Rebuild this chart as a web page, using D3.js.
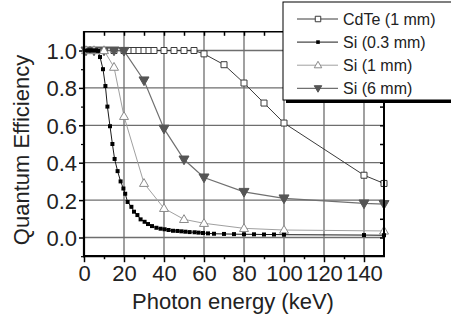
<!DOCTYPE html>
<html><head><meta charset="utf-8">
<script src="https://cdn.jsdelivr.net/npm/d3@7"></script>
<style>body{margin:0;background:#fff}svg{display:block}</style>
</head><body>
<svg id="c" width="451" height="320"></svg>
<script>
// ---- data ----
const seriesNames = ["CdTe (1 mm)", "Si (0.3 mm)", "Si (1 mm)", "Si (6 mm)"];
const cdteE  = [5,10,15,20,22.5,25,27.5,30,32.5,35,40,45,50,55,60,70,80,90,100,140,150];
const cdteQE = [1,1,1,1,1,1,1,1,1,1,1,1,1,1,0.982,0.924,0.826,0.719,0.612,0.333,0.289];
const si03E  = [1,2,3,4,5,6,7,8,9.5,10.7,11.7,13,14.2,15.3,16.8,18.3,19.7,20.6,21.8,23.7,25,26.7,28.3,30.3,32,34,36.2,38.3,40.3,42.3,44.5,46.7,48.7,50.7,52.8,55.3,57.3,59.5,62,65,70,75,80,85,90,95,100,140,150];
const si03QE = [1,1,1,1,1,1,0.998,0.965,0.90,0.81,0.70,0.595,0.50,0.42,0.355,0.30,0.262,0.234,0.19,0.164,0.138,0.12,0.097,0.084,0.072,0.061,0.052,0.047,0.044,0.04,0.036,0.035,0.033,0.031,0.029,0.028,0.026,0.024,0.022,0.02,0.019,0.018,0.017,0.017,0.016,0.016,0.015,0.013,0.012];
const si1E   = [1,5,10,15,20,30,40,50,60,80,100,150];
const si1QE  = [1,1,1,0.911,0.648,0.29,0.156,0.097,0.076,0.049,0.04,0.035];
const si6E   = [1,5,10,15,20,30,40,50,60,80,100,140,150];
const si6QE  = [1,1,1,1,0.998,0.84,0.582,0.417,0.321,0.244,0.209,0.182,0.179];
const xTicks = [0,20,40,60,80,100,120,140];
const yTicks = [0.0,0.2,0.4,0.6,0.8,1.0];
const xLabel = "Photon energy (keV)";
const yLabel = "Quantum Efficiency";

// ---- layout ----
const svg = d3.select("#c");
const font = "Liberation Sans, Arial, sans-serif";
const x = d3.scaleLinear().domain([0,150]).range([84,384]);
const y = d3.scaleLinear().domain([-0.1,1.1]).range([256.2,31.8]);
const X0 = x.range()[0], X1 = x.range()[1], Y0 = y.range()[0], Y1 = y.range()[1];

// gridlines
const grid = svg.append("g").attr("stroke","#6e6e6e").attr("stroke-width",1.3);
xTicks.filter(d=>d>0).forEach(d=>grid.append("line").attr("x1",x(d)).attr("x2",x(d)).attr("y1",Y1).attr("y2",Y0));
yTicks.forEach(d=>grid.append("line").attr("x1",X0).attr("x2",X1).attr("y1",y(d)).attr("y2",y(d)));

// axes using d3 axis generators
const axBottom = svg.append("g").attr("transform",`translate(0,${Y0})`)
  .call(d3.axisBottom(x).tickValues(xTicks).tickSize(6).tickSizeOuter(0).tickFormat(d3.format("d")));
axBottom.select(".domain").remove();
axBottom.selectAll("line").attr("stroke","#000").attr("stroke-width",1.5);
axBottom.selectAll("text").attr("font-family",font).attr("font-size",22).attr("fill","#222").attr("dy",null).attr("y",25);
const axBottomMinor = svg.append("g").attr("transform",`translate(0,${Y0})`)
  .call(d3.axisBottom(x).tickValues(d3.range(10,150,20)).tickSize(3).tickSizeOuter(0).tickFormat(""));
axBottomMinor.select(".domain").remove();
axBottomMinor.selectAll("line").attr("stroke","#000").attr("stroke-width",1.5);

const axLeft = svg.append("g").attr("transform",`translate(${X0},0)`)
  .call(d3.axisLeft(y).tickValues(yTicks).tickSize(5).tickSizeOuter(0).tickFormat(d3.format(".1f")));
axLeft.select(".domain").remove();
axLeft.selectAll("line").attr("stroke","#000").attr("stroke-width",1.5);
axLeft.selectAll("text").attr("font-family",font).attr("font-size",22).attr("fill","#222").attr("x",-7).attr("dy","0.36em");
const axLeftMinor = svg.append("g").attr("transform",`translate(${X0},0)`)
  .call(d3.axisLeft(y).tickValues([-0.1,0.1,0.3,0.5,0.7,0.9]).tickSize(3).tickSizeOuter(0).tickFormat(""));
axLeftMinor.select(".domain").remove();
axLeftMinor.selectAll("line").attr("stroke","#000").attr("stroke-width",1.2);

const axTop = svg.append("g").attr("transform",`translate(0,${Y1})`)
  .call(d3.axisTop(x).tickValues(d3.range(10,150,10)).tickSize(-4).tickSizeOuter(0).tickFormat(""));
axTop.select(".domain").remove();
axTop.selectAll("line").attr("stroke","#000").attr("stroke-width",1.5);
const axRight = svg.append("g").attr("transform",`translate(${X1},0)`)
  .call(d3.axisRight(y).tickValues(d3.range(0,1.05,0.1)).tickSize(-4).tickSizeOuter(0).tickFormat(""));
axRight.select(".domain").remove();
axRight.selectAll("line").attr("stroke","#000").attr("stroke-width",1.5);

// series
const series = [
  {name:seriesNames[0], E:cdteE, Q:cdteQE, line:"#3a3a3a", lw:1, marker:"square", size:6, fill:"#fff", stroke:"#3a3a3a"},
  {name:seriesNames[1], E:si03E, Q:si03QE, line:"#000", lw:0.9, marker:"square", size:4, fill:"#000", stroke:"none"},
  {name:seriesNames[2], E:si1E,  Q:si1QE,  line:"#a0a0a0", lw:1, marker:"tri", size:9, fill:"#fff", stroke:"#8a8a8a"},
  {name:seriesNames[3], E:si6E,  Q:si6QE,  line:"#707070", lw:1.2, marker:"dtri", size:10, fill:"#555", stroke:"#555"}
];
function markerPath(type, s){
  if(type==="square") return `M${-s/2},${-s/2}h${s}v${s}h${-s}Z`;
  const h = s*0.87;
  if(type==="tri") return `M0,${-h*0.6}L${s/2},${h*0.4}L${-s/2},${h*0.4}Z`;
  return `M0,${h*0.6}L${s/2},${-h*0.4}L${-s/2},${-h*0.4}Z`;
}
const lineGen = d3.line().x(d=>x(d[0])).y(d=>y(d[1]));
const drawOrder = [0,3,2,1];
drawOrder.forEach(i=>{
  const s = series[i];
  const pts = s.E.map((e,j)=>[e,s.Q[j]]);
  svg.append("path").datum(pts).attr("d",lineGen).attr("fill","none")
    .attr("stroke",s.line).attr("stroke-width",s.lw);
});
drawOrder.forEach(i=>{
  const s = series[i];
  const pts = s.E.map((e,j)=>[e,s.Q[j]]);
  svg.append("g").selectAll("path").data(pts).join("path")
    .attr("transform",d=>`translate(${x(d[0])},${y(d[1])})`)
    .attr("d",markerPath(s.marker,s.size))
    .attr("fill",s.fill).attr("stroke",s.stroke).attr("stroke-width",1);
});

// frame
svg.append("line").attr("x1",X0).attr("x2",X1).attr("y1",Y1).attr("y2",Y1).attr("stroke","#000").attr("stroke-width",1.5);
svg.append("line").attr("x1",X1).attr("x2",X1).attr("y1",Y1).attr("y2",Y0).attr("stroke","#000").attr("stroke-width",2);
svg.append("line").attr("x1",X0).attr("x2",X0).attr("y1",Y1-0.75).attr("y2",Y0+1).attr("stroke","#000").attr("stroke-width",2.2);
svg.append("line").attr("x1",X0-1).attr("x2",X1+1).attr("y1",Y0).attr("y2",Y0).attr("stroke","#000").attr("stroke-width",2.2);

// axis titles
svg.append("text").attr("x",233).attr("y",309).attr("text-anchor","middle")
  .attr("font-family",font).attr("font-size",22).attr("fill","#222").text(xLabel);
svg.append("text").attr("transform","translate(29,150) rotate(-90)").attr("text-anchor","middle")
  .attr("font-family",font).attr("font-size",22).attr("fill","#222").text(yLabel);

// legend
const lg = svg.append("g");
lg.append("rect").attr("x",286).attr("y",5).attr("width",170).attr("height",98).attr("fill","#000");
lg.append("rect").attr("x",283).attr("y",2).attr("width",170).attr("height",98).attr("fill","#fff").attr("stroke","#000").attr("stroke-width",1);
series.forEach((s,i)=>{
  const yy = 19 + i*23.1;
  lg.append("line").attr("x1",297).attr("x2",338).attr("y1",yy).attr("y2",yy).attr("stroke",s.line).attr("stroke-width",s.lw);
  lg.append("path").attr("transform",`translate(318,${yy})`).attr("d",markerPath(s.marker, s.marker==="square"? (i===0?5.5:3.6) : 7.5))
    .attr("fill",s.fill).attr("stroke",s.stroke).attr("stroke-width",1);
  lg.append("text").attr("x",343).attr("y",yy+6).attr("font-family",font).attr("font-size",16).attr("fill","#222").text(s.name);
});
</script>
</body></html>
